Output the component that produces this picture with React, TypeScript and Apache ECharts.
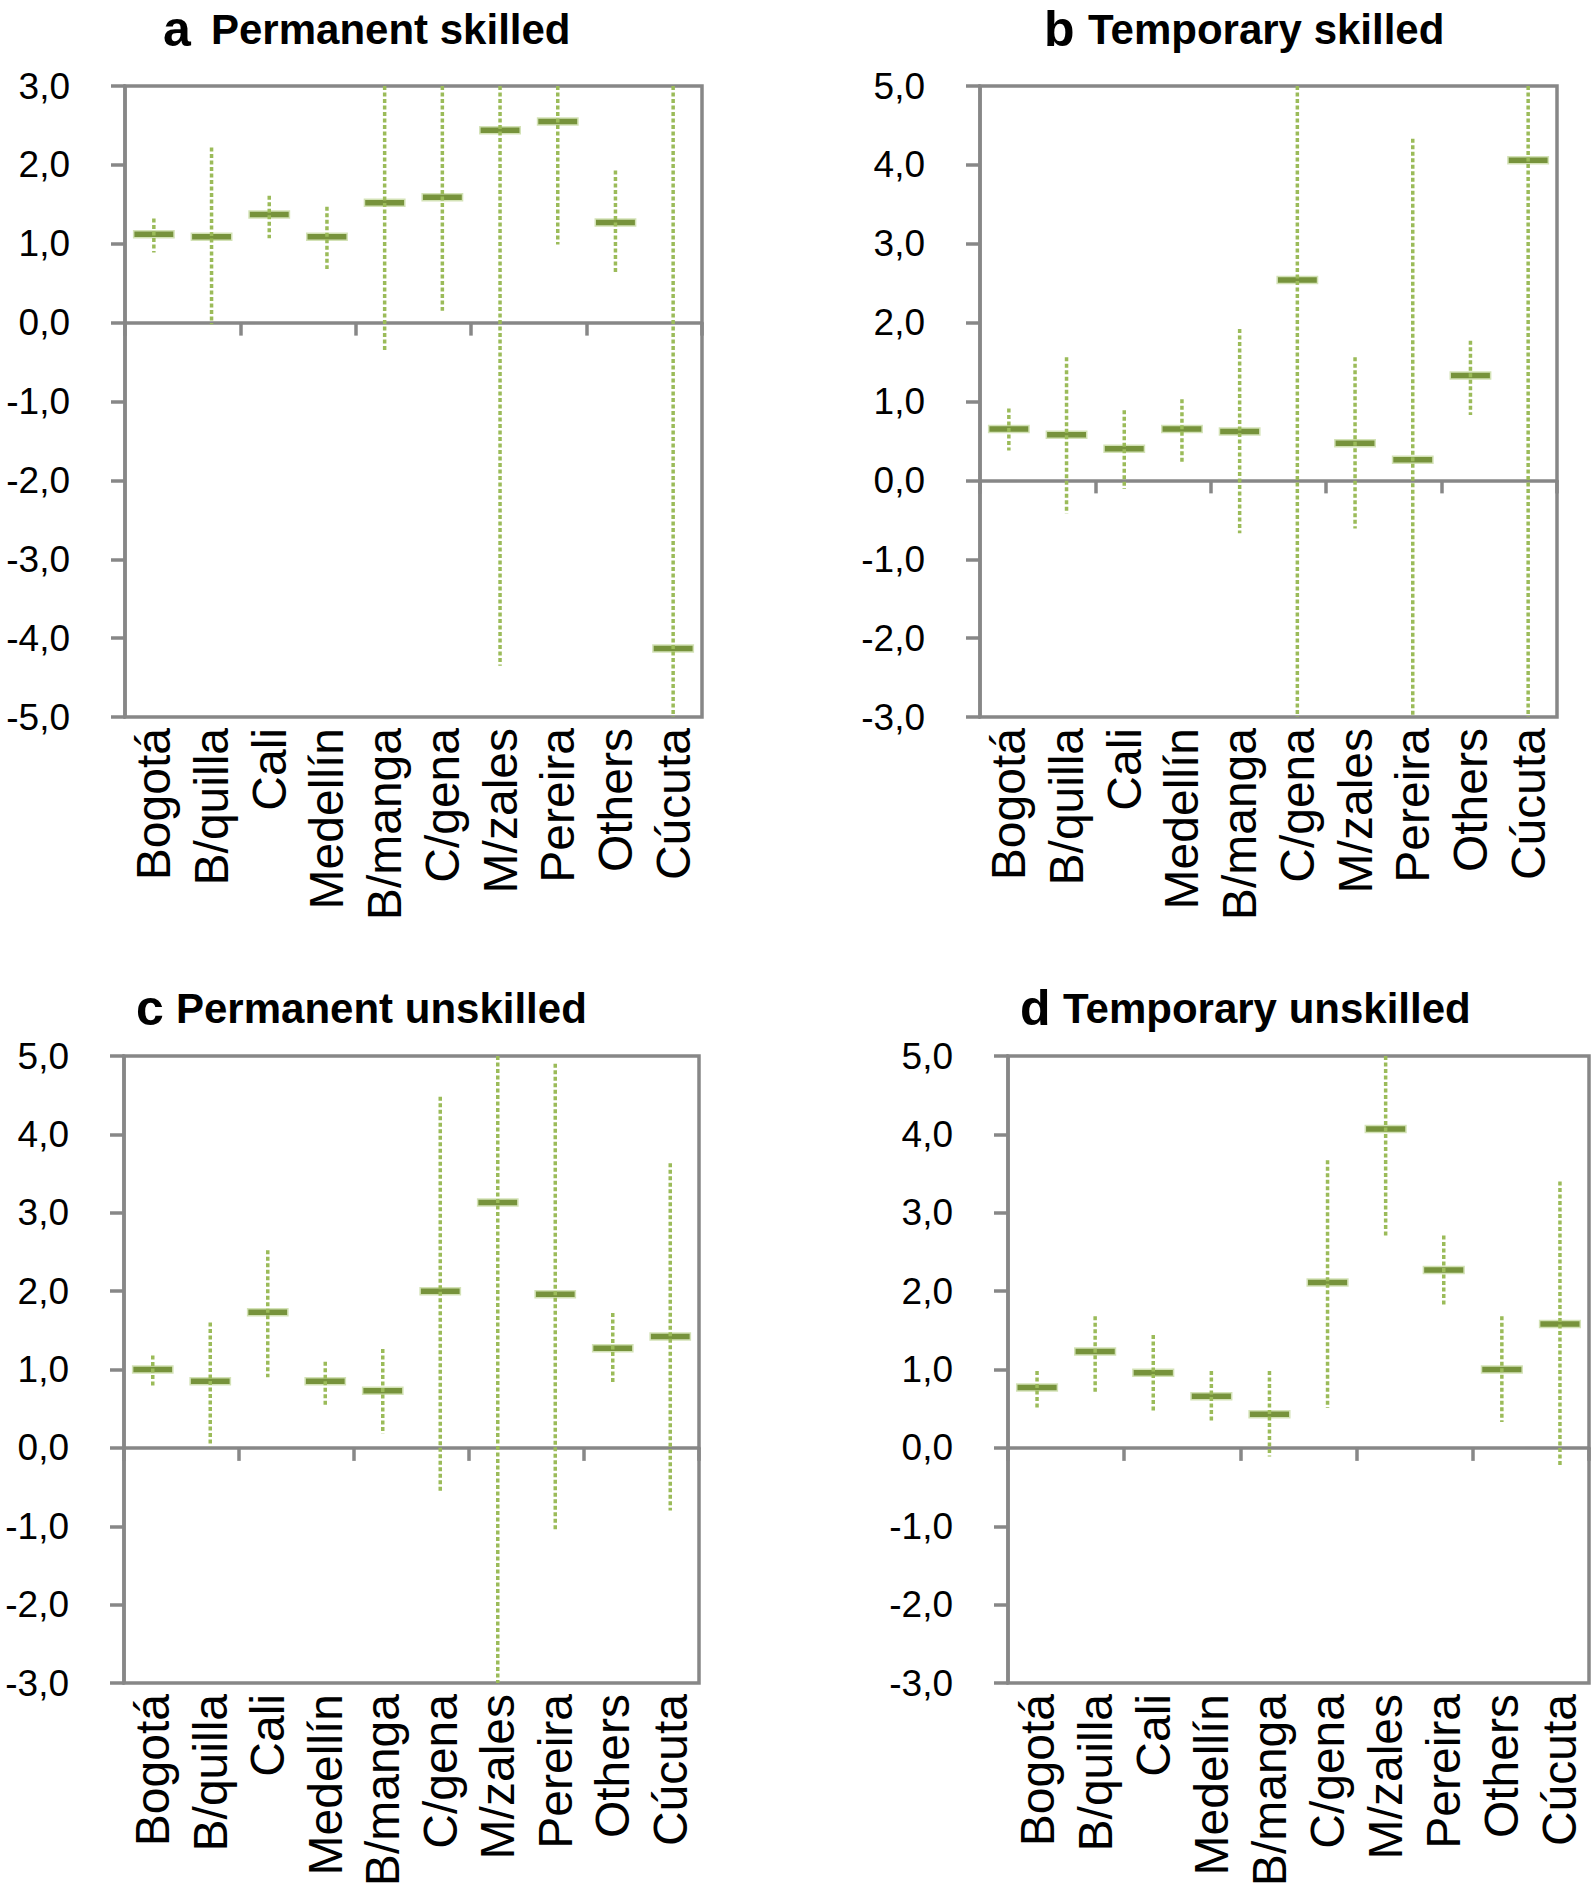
import React, { useEffect, useRef } from "react";
import * as echarts from "echarts";

const categories = ["Bogotá", "B/quilla", "Cali", "Medellín", "B/manga", "C/gena", "M/zales", "Pereira", "Others", "Cúcuta"];

// Panel a: Permanent skilled
const aMean = [1.12, 1.09, 1.37, 1.09, 1.52, 1.59, 2.44, 2.55, 1.27, -4.13];
const aLow = [0.89, -0.02, 1.07, 0.68, -0.37, 0.15, -4.35, 0.99, 0.61, -11.5];
const aHigh = [1.32, 2.22, 1.61, 1.47, 3.41, 3.1, 9.23, 4.11, 1.93, 3.2];

// Panel b: Temporary skilled
const bMean = [0.65, 0.58, 0.4, 0.65, 0.62, 2.54, 0.47, 0.26, 1.33, 4.06];
const bLow = [0.38, -0.42, -0.11, 0.21, -0.67, -3.2, -0.61, -3.81, 0.83, -3.1];
const bHigh = [0.91, 1.56, 0.89, 1.03, 1.92, 8.3, 1.56, 4.33, 1.77, 11.2];

// Panel c: Permanent unskilled
const cMean = [1.0, 0.85, 1.73, 0.85, 0.73, 2.0, 3.13, 1.96, 1.27, 1.42];
const cLow = [0.79, 0.02, 0.9, 0.55, 0.18, -0.57, -3.2, -1.04, 0.81, -0.8];
const cHigh = [1.18, 1.6, 2.52, 1.1, 1.26, 4.48, 9.4, 4.9, 1.72, 3.63];

// Panel d: Temporary unskilled
const dMean = [0.77, 1.23, 0.96, 0.66, 0.43, 2.11, 4.07, 2.27, 1.0, 1.58];
const dLow = [0.51, 0.71, 0.45, 0.33, -0.11, 0.51, 2.71, 1.81, 0.33, -0.23];
const dHigh = [0.98, 1.68, 1.44, 0.98, 0.98, 3.67, 5.43, 2.71, 1.68, 3.4];

// y-axis ranges [min, max, interval]
const rangeA = [-5, 3, 1];
const rangeB = [-3, 5, 1];
const rangeC = [-3, 5, 1];
const rangeD = [-3, 5, 1];

const panelLetters = ["a", "b", "c", "d"];
const panelTitles = ["Permanent skilled", "Temporary skilled", "Permanent unskilled", "Temporary unskilled"];

const FONT = "'Liberation Sans', Arial, Helvetica, sans-serif";
const GRAY = "#878787";

export default function App() {
  const ref = useRef<HTMLDivElement>(null);

  useEffect(() => {
    document.body.style.margin = "0";
    if (!ref.current) return;
    const chart = echarts.init(ref.current, undefined, { renderer: "svg" });

    const panels = [
      { mean: aMean, low: aLow, high: aHigh, range: rangeA, grid: { left: 125, top: 86, width: 577, height: 631 } },
      { mean: bMean, low: bLow, high: bHigh, range: rangeB, grid: { left: 980, top: 86, width: 577, height: 631 } },
      { mean: cMean, low: cLow, high: cHigh, range: rangeC, grid: { left: 124, top: 1056, width: 575, height: 627 } },
      { mean: dMean, low: dLow, high: dHigh, range: rangeD, grid: { left: 1008, top: 1056, width: 581, height: 627 } },
    ];

    const grids: any[] = [];
    const xAxes: any[] = [];
    const yAxes: any[] = [];
    const series: any[] = [];

    panels.forEach((p, k) => {
      grids.push({
        ...p.grid,
        show: true,
        borderColor: GRAY,
        borderWidth: 3.5,
        backgroundColor: "transparent",
        containLabel: false,
        outerBoundsMode: "none",
      });
      // label axis at the bottom
      xAxes.push({
        type: "category",
        gridIndex: k,
        data: categories,
        position: "bottom",
        axisLine: { show: false, onZero: false },
        axisTick: { show: false },
        axisLabel: {
          interval: 0,
          rotate: 90,
          margin: 11,
          fontSize: 48,
          fontFamily: FONT,
          color: "#000",
        },
        splitLine: { show: false },
      });
      // zero line axis with boundary ticks
      xAxes.push({
        type: "category",
        gridIndex: k,
        data: categories,
        position: "bottom",
        axisLine: { show: true, onZero: true, lineStyle: { color: GRAY, width: 3.5 } },
        axisTick: { show: true, length: 13, inside: false, lineStyle: { color: GRAY, width: 3.5 } },
        axisLabel: { show: false },
        splitLine: { show: false },
      });
      yAxes.push({
        type: "value",
        gridIndex: k,
        min: p.range[0],
        max: p.range[1],
        interval: p.range[2],
        axisLine: { show: true, onZero: false, lineStyle: { color: GRAY, width: 3.5 } },
        axisTick: { show: true, length: 14, lineStyle: { color: GRAY, width: 3.5 } },
        splitLine: { show: false },
        axisLabel: {
          margin: 55,
          fontSize: 37,
          fontFamily: FONT,
          color: "#000",
          formatter: (v: number) => v.toFixed(1).replace(".", ","),
        },
      });
      const data = categories.map((_, i) => [i, p.mean[i], p.low[i], p.high[i]]);
      series.push({
        type: "custom",
        xAxisIndex: k * 2,
        yAxisIndex: k,
        data,
        encode: { x: 0, y: 1 },
        z: 5,
        renderItem: (params: any, api: any) => {
          const idx = api.value(0);
          const c = api.coord([idx, api.value(1)]);
          const lo = api.coord([idx, api.value(2)]);
          const hi = api.coord([idx, api.value(3)]);
          const bw = api.size([1, 0])[0];
          const cs = params.coordSys;
          const top = cs.y;
          const bot = cs.y + cs.height;
          const y1 = Math.max(top, Math.min(bot, hi[1]));
          const y2 = Math.max(top, Math.min(bot, lo[1]));
          const mw = bw * 0.7;
          return {
            type: "group",
            children: [
              {
                type: "rect",
                shape: { x: c[0] - mw / 2, y: c[1] - 3.5, width: mw, height: 7 },
                style: { fill: "#77933C", stroke: "#D3E2B6", lineWidth: 1.5 },
              },
              {
                type: "line",
                shape: { x1: c[0], y1, x2: c[0], y2 },
                style: { stroke: "#9BBB59", lineWidth: 3.5, lineDash: [4, 2.5] },
              },
            ],
          };
        },
      });
    });

    const titlePos = [
      { lx: 163, tx: 211, y: 29 },
      { lx: 1044, tx: 1088, y: 29 },
      { lx: 136, tx: 176, y: 1008 },
      { lx: 1020, tx: 1063, y: 1008 },
    ];
    const graphic: any[] = [];
    titlePos.forEach((t, k) => {
      graphic.push({
        type: "text",
        x: t.lx,
        y: t.y,
        style: {
          text: panelLetters[k],
          font: `bold 50px ${FONT}`,
          fill: "#000",
          verticalAlign: "middle",
          align: "left",
        },
      });
      graphic.push({
        type: "text",
        x: t.tx,
        y: t.y,
        style: {
          text: panelTitles[k],
          font: `bold 42px ${FONT}`,
          fill: "#000",
          verticalAlign: "middle",
          align: "left",
        },
      });
    });

    chart.setOption({
      animation: false,
      backgroundColor: "#fff",
      grid: grids,
      xAxis: xAxes,
      yAxis: yAxes,
      series,
      graphic,
    });

    return () => chart.dispose();
  }, []);

  return <div ref={ref} style={{ width: 1594, height: 1891 }} />;
}
